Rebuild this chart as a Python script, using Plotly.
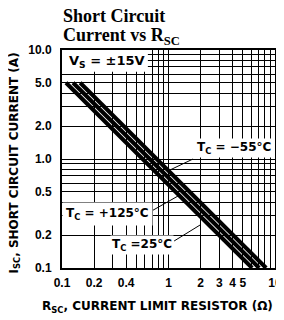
import math
import plotly.graph_objects as go

# ---- data ----
isc_ends = [5.0, 0.1]                 # A, start/end of each curve
rsc_125 = [0.109, 6.1]                # ohm, Tc = +125°C
rsc_25 = [0.127, 7.1]                 # ohm, Tc = 25°C
rsc_m55 = [0.148, 8.25]               # ohm, Tc = -55°C

x_grid = [0.1, 0.2, 0.3, 0.4, 0.5, 0.6, 0.7, 0.8, 0.9,
          1, 2, 3, 4, 5, 6, 7, 8, 9, 10]
x_tickvals = [0.1, 0.2, 0.4, 1, 2, 3, 4, 5, 10]
x_ticktext = ["0.1", "0.2", "0.4", "1", "2", "3", "4", "5", "10"]
y_grid = [0.1, 0.2, 0.3, 0.4, 0.5, 0.6, 0.7, 0.8, 0.9,
          1, 2, 3, 4, 5, 6, 7, 8, 9, 10]
y_tickvals = [0.1, 0.2, 0.5, 1, 2, 5, 10]
y_ticktext = ["0.1", "0.2", "0.5", "1.0", "2.0", "5.0", "10.0"]

SANS = "Liberation Sans, Arial, sans-serif"
WIDE = "DejaVu Sans, Verdana, sans-serif"
SERIF = "Liberation Serif, Times New Roman, serif"
L = math.log10

fig = go.Figure()
for r in (rsc_125, rsc_25, rsc_m55):
    fig.add_trace(go.Scatter(x=r, y=isc_ends, mode="lines",
                             line=dict(color="black", width=4.1),
                             showlegend=False, hoverinfo="skip"))

def axis_common(grid):
    return dict(type="log", range=[-1, 1], showgrid=True, gridcolor="black",
                gridwidth=1, showline=True, linecolor="black", linewidth=2,
                mirror=True, ticks="", zeroline=False, automargin=False,
                minor=dict(tickvals=grid, showgrid=True, gridcolor="black",
                           gridwidth=1, ticks=""),
                tickfont=dict(family=SANS, size=12, color="black"))

fig.update_xaxes(tickvals=x_tickvals,
                 ticktext=["<b>%s</b>" % t for t in x_ticktext],
                 ticklabelstandoff=3, **axis_common(x_grid))
fig.update_yaxes(tickvals=y_tickvals,
                 ticktext=["<b>%s</b>" % t for t in y_ticktext],
                 ticklabelstandoff=6, **axis_common(y_grid))

title_font = dict(family=WIDE, size=12, color="black")
# x axis title
fig.add_annotation(xref="paper", yref="paper", x=0.448, y=-0.18,
                   xanchor="center", yanchor="middle", showarrow=False,
                   text="<b>R<sub>SC</sub>, CURRENT LIMIT RESISTOR (Ω)</b>",
                   font=title_font)
# y axis title
fig.add_annotation(xref="paper", yref="paper", x=-0.22, y=0.48,
                   xanchor="center", yanchor="middle", showarrow=False,
                   textangle=-90,
                   text="<b>I<sub>SC</sub>, SHORT CIRCUIT CURRENT (A)</b>",
                   font=title_font)

# white box for supply voltage label
fig.add_shape(type="rect", xref="x", yref="y", x0=0.1, x1=0.64, y0=6.3, y1=10,
              fillcolor="white", line=dict(width=0), layer="above")
fig.add_annotation(x=L(0.111), y=L(7.8), xref="x", yref="y", xanchor="left",
                   text="<b>V<sub>S</sub> = ±15V</b>", showarrow=False,
                   font=dict(family=WIDE, size=13, color="black"))

lab_font = dict(family=WIDE, size=12, color="black")
lead = dict(type="line", xref="x", yref="y", line=dict(color="black", width=1),
            layer="above")
# -55 label
fig.add_annotation(x=L(4.15), y=L(1.26), xref="x", yref="y",
                   text="<b>T<sub>C</sub> = −55°C</b>", showarrow=False,
                   bgcolor="white", font=lab_font, borderpad=1)
fig.add_shape(x0=1.70, y0=1.0, x1=0.97, y1=0.77, **lead)
# +125 label
fig.add_annotation(x=L(0.27), y=L(0.315), xref="x", yref="y",
                   text="<b>T<sub>C</sub> = +125°C</b>", showarrow=False,
                   bgcolor="white", font=lab_font, borderpad=3)
fig.add_shape(x0=0.67, y0=0.327, x1=1.23, y1=0.458, **lead)
# 25 label
fig.add_annotation(x=L(0.56), y=L(0.163), xref="x", yref="y",
                   text="<b>T<sub>C</sub> =25°C</b>", showarrow=False,
                   bgcolor="white", font=lab_font, borderpad=1)
fig.add_shape(x0=1.13, y0=0.177, x1=1.98, y1=0.248, **lead)

# chart title (two lines placed separately)
title_f = dict(family=SERIF, size=18, color="black")
fig.add_annotation(xref="paper", yref="paper", x=-0.005, y=1.158,
                   xanchor="left", yanchor="middle", showarrow=False,
                   text="<b>Short Circuit</b>", font=title_f)
fig.add_annotation(xref="paper", yref="paper", x=-0.005, y=1.060,
                   xanchor="left", yanchor="middle", showarrow=False,
                   text="<b>Current vs R<sub>SC</sub></b>", font=title_f)

# the page body adds an 8 px offset, so the figure is 8 px smaller
fig.update_layout(
    width=276, height=312,
    margin=dict(l=54, r=9, t=42, b=52),
    paper_bgcolor="white", plot_bgcolor="white",
)

fig.write_html("out.html")
